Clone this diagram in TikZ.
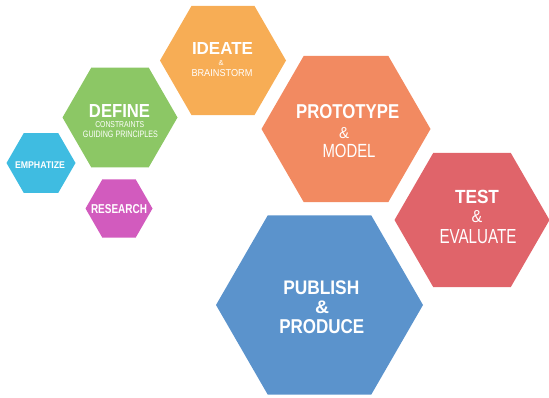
\documentclass[tikz,border=0pt]{standalone}
\usepackage{fontspec}
\setmainfont{Liberation Sans}
\usetikzlibrary{shapes.geometric}
\definecolor{cEmp}{HTML}{3FBCE1}
\definecolor{cDef}{HTML}{8CC765}
\definecolor{cIde}{HTML}{F7AD55}
\definecolor{cRes}{HTML}{D25BBE}
\definecolor{cPro}{HTML}{F28A61}
\definecolor{cTes}{HTML}{E0646A}
\definecolor{cPub}{HTML}{5B93CC}
\newcommand\hexfit[3]{\resizebox{#1pt}{#2pt}{#3}}
\tikzset{
  hex/.style={regular polygon, regular polygon sides=6, inner sep=0pt, outer sep=0pt, draw=none, minimum size=#1 pt},
  txt/.style={text=white, inner sep=0pt, outer sep=0pt}
}
\begin{document}
\begin{tikzpicture}[x=1pt,y=-1pt]
\useasboundingbox (0,0) rectangle (549,398);
% hexagons
\node[hex=69, fill=cEmp] (emp) at (41,163) {};
\node[hex=115, fill=cDef] (def) at (120,117.5) {};
\node[hex=126, fill=cIde] (ide) at (223,60.5) {};
\node[hex=67, fill=cRes] (res) at (119,208.5) {};
\node[hex=169, fill=cPro] (pro) at (346,129) {};
\node[hex=155, fill=cTes] (tes) at (472,220) {};
\node[hex=207, fill=cPub] (pub) at (319.5,305) {};
% texts
\node[txt] (empA) at (40,165) {\hexfit{50}{6.7}{\bfseries EMPHATIZE}};
\node[txt] (resA) at (119,209) {\hexfit{56}{9}{\bfseries RESEARCH}};
\node[txt] (defA) at (119.5,110.7) {\hexfit{61}{13}{\bfseries DEFINE}};
\node[txt] (defB) at (119.8,124.5) {\hexfit{49}{6}{CONSTRAINTS}};
\node[txt] (defC) at (120.5,134) {\hexfit{75}{6.5}{GUIDING PRINCIPLES}};
\node[txt] (ideA) at (222.5,49) {\hexfit{61}{12}{\bfseries IDEATE}};
\node[txt] (ideB) at (221,63) {\hexfit{5}{5}{\&}};
\node[txt] (ideC) at (222,73.3) {\hexfit{61}{7}{BRAINSTORM}};
\node[txt] (proA) at (347.7,112) {\hexfit{103}{14}{\bfseries PROTOTYPE}};
\node[txt] (proB) at (344,132.8) {\hexfit{10}{11}{\&}};
\node[txt] (proC) at (349,151) {\hexfit{53}{13.3}{MODEL}};
\node[txt] (tesA) at (477,196.7) {\hexfit{44}{13.3}{\bfseries TEST}};
\node[txt] (tesB) at (477,217) {\hexfit{10.7}{12}{\&}};
\node[txt] (tesC) at (478,237) {\hexfit{77}{14}{EVALUATE}};
\node[txt] (pubA) at (321.3,287.5) {\hexfit{76}{13.7}{\bfseries PUBLISH}};
\node[txt] (pubB) at (322,307) {\hexfit{14}{12.6}{\bfseries\&}};
\node[txt] (pubC) at (321.8,326.3) {\hexfit{85}{14}{\bfseries PRODUCE}};
\end{tikzpicture}
\end{document}
